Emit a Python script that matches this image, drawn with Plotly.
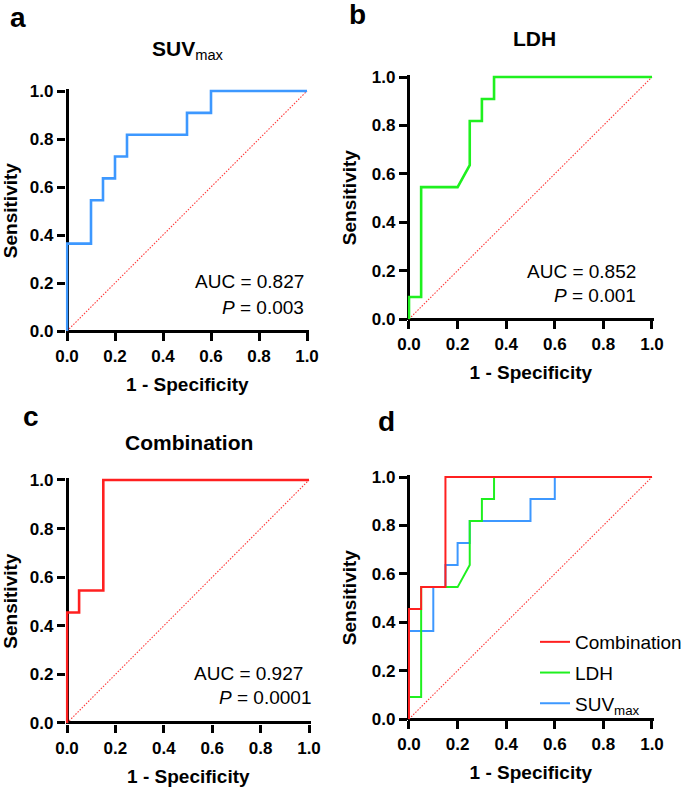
import plotly.graph_objects as go

W, H = 685, 789

# ---- data ----
suv_fpr = [0, 0, 0.10, 0.10, 0.15, 0.15, 0.20, 0.20, 0.25, 0.25, 0.50, 0.50, 0.60, 0.60, 1.0]
suv_tpr = [0, 0.364, 0.364, 0.545, 0.545, 0.636, 0.636, 0.727, 0.727, 0.818, 0.818, 0.909, 0.909, 1.0, 1.0]

ldh_fpr = [0, 0, 0.05, 0.05, 0.20, 0.25, 0.25, 0.30, 0.30, 0.35, 0.35, 1.0]
ldh_tpr = [0, 0.091, 0.091, 0.545, 0.545, 0.636, 0.818, 0.818, 0.909, 0.909, 1.0, 1.0]

comb_fpr = [0, 0, 0.05, 0.05, 0.15, 0.15, 1.0]
comb_tpr = [0, 0.455, 0.455, 0.545, 0.545, 1.0, 1.0]

ref_line = [0, 1]
tick_vals = [0, 0.2, 0.4, 0.6, 0.8, 1.0]
tick_text = ["0.0", "0.2", "0.4", "0.6", "0.8", "1.0"]

auc_text = {"a": ("AUC = 0.827", "<i>P</i> = 0.003"),
            "b": ("AUC = 0.852", "<i>P</i> = 0.001"),
            "c": ("AUC = 0.927", "<i>P</i> = 0.0001")}

BLUE = "#3D98FF"
GREEN = "#1FF01F"
RED = "#FF2020"
DIAG = "#FF3A3A"

LO, HI = -0.005, 1.008   # axis range padding so lines at 0/1 are not clipped

# ---- layout in pixels: (x at 0, x at 1, y at 1, y at 0)
boxes = {
    1: (67, 307, 91, 331),
    2: (409, 652, 77, 319),
    3: (67, 309, 480, 723),
    4: (409, 652, 477, 719),
}

def px(x):
    return x / W

def py(y):
    return 1 - y / H

fig = go.Figure()

def add(tr, i):
    xa = "x" if i == 1 else f"x{i}"
    ya = "y" if i == 1 else f"y{i}"
    tr.update(xaxis=xa, yaxis=ya)
    fig.add_trace(tr)

for i in range(1, 5):
    add(go.Scatter(x=ref_line, y=ref_line, mode="lines", showlegend=False,
                   line=dict(color=DIAG, width=1.1, dash="1.5px,1.5px"), hoverinfo="skip"), i)

add(go.Scatter(x=suv_fpr, y=suv_tpr, mode="lines", line=dict(color=BLUE, width=2.6),
               showlegend=False), 1)
add(go.Scatter(x=ldh_fpr, y=ldh_tpr, mode="lines", line=dict(color=GREEN, width=2.6),
               showlegend=False), 2)
add(go.Scatter(x=comb_fpr, y=comb_tpr, mode="lines", line=dict(color=RED, width=2.6),
               showlegend=False), 3)

add(go.Scatter(x=suv_fpr, y=suv_tpr, mode="lines", line=dict(color=BLUE, width=2),
               name="SUV<sub>max</sub>", legendrank=3, legendgroup="s"), 4)
add(go.Scatter(x=ldh_fpr, y=ldh_tpr, mode="lines", line=dict(color=GREEN, width=2),
               name="LDH", legendrank=2, legendgroup="l"), 4)
add(go.Scatter(x=comb_fpr, y=comb_tpr, mode="lines", line=dict(color=RED, width=2),
               name="Combination", legendrank=1, legendgroup="c"), 4)

axis_common = dict(range=[LO, HI], showline=False, zeroline=True, zerolinecolor="black",
                   zerolinewidth=3, ticks="outside", ticklen=8, tickwidth=2.5, tickcolor="black",
                   tickvals=tick_vals, ticktext=tick_text, showgrid=False, automargin=False,
                   tickfont=dict(family="Liberation Sans, Arial", size=17, color="black", weight="bold"),
                   fixedrange=True)

title_font = dict(family="Liberation Sans, Arial", size=19, color="black", weight="bold")

layout = dict(width=W, height=H, margin=dict(l=0, r=0, t=0, b=0, autoexpand=False),
              paper_bgcolor="white", plot_bgcolor="white", showlegend=True)

for i, (x0, x1, yt, yb) in boxes.items():
    xs = "xaxis" if i == 1 else f"xaxis{i}"
    ys = "yaxis" if i == 1 else f"yaxis{i}"
    yanchor_name = "y" if i == 1 else f"y{i}"
    xanchor_name = "x" if i == 1 else f"x{i}"
    sx = x1 - x0
    sy = yb - yt
    layout[xs] = dict(axis_common, domain=[px(x0 + LO * sx), px(x0 + HI * sx)], anchor=yanchor_name,
                      title=dict(text="1 - Specificity", font=title_font, standoff=13))
    layout[ys] = dict(axis_common, domain=[py(yb - LO * sy), py(yb - HI * sy)], anchor=xanchor_name,
                      title=dict(text="Sensitivity", font=title_font, standoff=10))

fig.update_layout(**layout)

fig.update_layout(legend=dict(x=px(535), y=py(623), xanchor="left", yanchor="top",
                              bgcolor="rgba(0,0,0,0)", tracegroupgap=3, itemwidth=30,
                              font=dict(family="Liberation Sans, Arial", size=19, color="black")))

ann = []
letter_font = dict(family="Liberation Sans, Arial", size=28, color="black", weight="bold")
for lt, (x, y) in {"a": (18, 17), "b": (357, 14), "c": (31, 416), "d": (386, 421)}.items():
    ann.append(dict(text=lt, x=px(x), y=py(y), xref="paper", yref="paper",
                    showarrow=False, font=letter_font, xanchor="center", yanchor="middle"))

ptitle_font = dict(family="Liberation Sans, Arial", size=21, color="black", weight="bold")
for txt, (x, y) in {"SUV<span style='font-weight:normal'><sub>max</sub></span>": (188, 50),
                    "LDH": (534, 38),
                    "Combination": (189, 442)}.items():
    ann.append(dict(text=txt, x=px(x), y=py(y), xref="paper", yref="paper",
                    showarrow=False, font=ptitle_font, xanchor="center", yanchor="middle"))

auc_font = dict(family="Liberation Sans, Arial", size=19, color="black")
# (right edge px of line1, y px line1, right edge px line2, y px line2)
pos = {"a": (306, 282, 306, 307),
       "b": (638, 271, 638, 295),
       "c": (305, 673, 313, 697)}
for k, (x1, y1, x2, y2) in pos.items():
    t1, t2 = auc_text[k]
    ann.append(dict(text=t1, x=px(x1), y=py(y1), xref="paper", yref="paper", showarrow=False,
                    font=auc_font, xanchor="right", yanchor="middle"))
    ann.append(dict(text=t2, x=px(x2), y=py(y2), xref="paper", yref="paper", showarrow=False,
                    font=auc_font, xanchor="right", yanchor="middle"))

fig.update_layout(annotations=ann)
fig.write_html("out.html", config={"displayModeBar": False},
               post_script="document.body.style.margin='0';")
